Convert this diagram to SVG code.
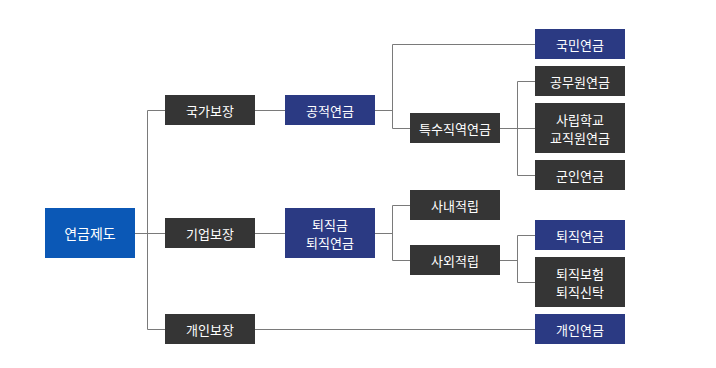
<svg xmlns="http://www.w3.org/2000/svg" width="716" height="368" viewBox="0 0 716 368">
<style>
.dark{fill:#353535}
.navy{fill:#2b3a83}
.blue{fill:#0b58b6}
text{font-family:"Malgun Gothic","Noto Sans CJK KR",sans-serif;font-size:13px;fill:#fff;text-anchor:middle;dominant-baseline:central}
.big{font-size:14px}
.conn{fill:none;stroke:#7a7a7a;stroke-width:1}
</style>
<rect width="716" height="368" fill="#fff"/>
<g id="connectors">
<path class="conn" d="M135 233.5H165M147.5 110.5V329.5M147.5 110.5H165M147.5 329.5H165"/>
<path class="conn" d="M255 110.5H285M255 233.5H285M255 329.5H535"/>
<path class="conn" d="M375 110.5H392.5M392.5 44.5V128.5M392.5 44.5H535M392.5 128.5H410"/>
<path class="conn" d="M500 128.5H535M517.5 81.5V175.5M517.5 81.5H535M517.5 175.5H535"/>
<path class="conn" d="M375 233.5H392.5M392.5 205.5V260.5M392.5 205.5H410M392.5 260.5H410"/>
<path class="conn" d="M500 260.5H517.5M517.5 235.5V282.5M517.5 235.5H535M517.5 282.5H535"/>
</g>
<g id="n-root"><rect class="blue" x="45" y="208" width="90" height="50"/><text class="big" x="90" y="233">연금제도</text></g>
<g id="n-national"><rect class="dark" x="165" y="95" width="90" height="30"/><text x="210" y="110">국가보장</text></g>
<g id="n-corporate"><rect class="dark" x="165" y="218" width="90" height="30"/><text x="210" y="233">기업보장</text></g>
<g id="n-personal"><rect class="dark" x="165" y="314" width="90" height="30"/><text x="210" y="329">개인보장</text></g>
<g id="n-public"><rect class="navy" x="285" y="95" width="90" height="30"/><text x="330" y="110">공적연금</text></g>
<g id="n-retire"><rect class="navy" x="285" y="208" width="90" height="50"/><text x="330" y="224">퇴직금</text><text x="330" y="242">퇴직연금</text></g>
<g id="n-special"><rect class="dark" x="410" y="113" width="90" height="30"/><text x="455" y="128">특수직역연금</text></g>
<g id="n-internal"><rect class="dark" x="410" y="190" width="90" height="30"/><text x="455" y="205">사내적립</text></g>
<g id="n-external"><rect class="dark" x="410" y="245" width="90" height="30"/><text x="455" y="260">사외적립</text></g>
<g id="n-nps"><rect class="navy" x="535" y="29" width="90" height="30"/><text x="580" y="44">국민연금</text></g>
<g id="n-gov"><rect class="dark" x="535" y="66" width="90" height="30"/><text x="580" y="81">공무원연금</text></g>
<g id="n-teacher"><rect class="dark" x="535" y="103" width="90" height="50"/><text x="580" y="119">사립학교</text><text x="580" y="137">교직원연금</text></g>
<g id="n-military"><rect class="dark" x="535" y="160" width="90" height="30"/><text x="580" y="175">군인연금</text></g>
<g id="n-rp"><rect class="navy" x="535" y="220" width="90" height="30"/><text x="580" y="235">퇴직연금</text></g>
<g id="n-insurance"><rect class="dark" x="535" y="257" width="90" height="50"/><text x="580" y="273">퇴직보험</text><text x="580" y="291">퇴직신탁</text></g>
<g id="n-ipp"><rect class="navy" x="535" y="314" width="90" height="30"/><text x="580" y="329">개인연금</text></g>
</svg>
